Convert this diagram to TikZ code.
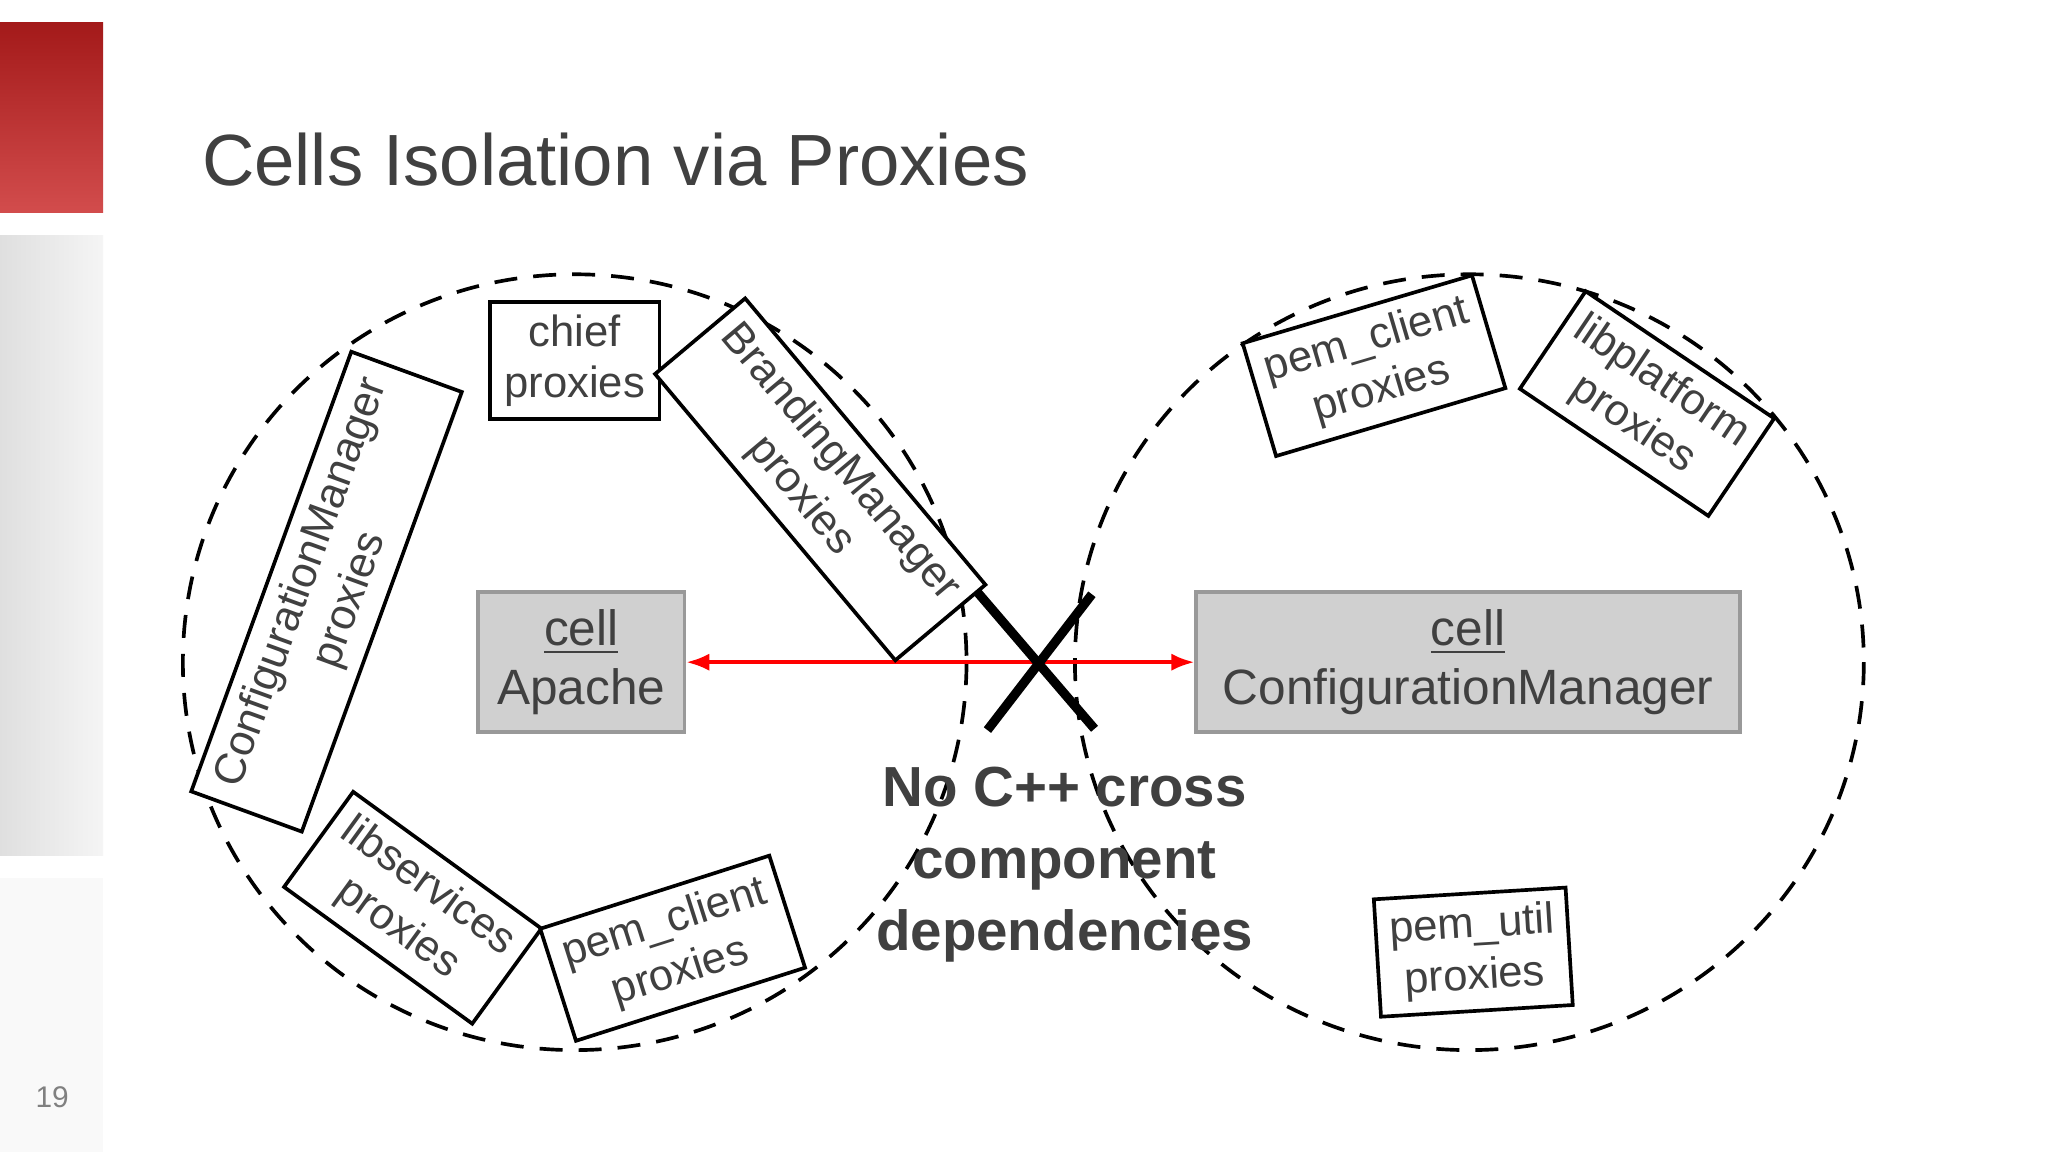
\documentclass[tikz,border=0pt]{standalone}
\usepackage{fontspec}
\setmainfont{Liberation Sans}
\usetikzlibrary{arrows.meta}
\definecolor{txt}{HTML}{404040}
\definecolor{cellgray}{HTML}{D0D0D0}
\begin{document}
\begin{tikzpicture}[x=0.01cm,y=-0.01cm,
  prox/.style={draw=black,line width=0.8pt,fill=white,align=center,text=txt,
    font=\fontsize{9.5}{11.2}\selectfont,inner sep=0pt,minimum height=0.9cm},
  cellbox/.style={draw=gray!80,line width=0.8pt,fill=cellgray,align=center,text=txt,
    font=\fontsize{10.8}{13}\selectfont,inner sep=0pt,minimum height=1.07cm},
  ring/.style={line width=0.8pt,dash pattern=on 5pt off 3.5pt}]
  % background
  \useasboundingbox (0,0) rectangle (1568,882);
  \fill[white] (0,0) rectangle (1568,882);
  \shade[top color=red!60!black!90,bottom color=red!75!black!70] (0,17) rectangle (79,163);
  \shade[left color=gray!25,right color=gray!8] (0,180) rectangle (79,655);
  \fill[gray!5] (0,672) rectangle (79,882);
  \node[text=gray,font=\fontsize{6.5}{8}\selectfont] (pg) at (40,840) {19};
  % title
  \node[anchor=west,inner sep=0pt,text=txt,font=\fontsize{15.8}{19}\selectfont] (title) at (154,122) {Cells Isolation via Proxies};
  % cells
  \draw[ring] (440,507) ellipse [x radius=300, y radius=297];
  \draw[ring] (1125,507) ellipse [x radius=302, y radius=297];
  % cell boxes
  \node[cellbox,minimum width=1.58cm] (apache) at (445,507) {\underline{cell}\\Apache};
  \node[cellbox,minimum width=4.16cm] (cfg) at (1124,507) {\underline{cell}\\ConfigurationManager};
  \draw[red,line width=0.8pt,{Latex[length=5pt]}-{Latex[length=5pt]}] (apache.east) -- (cfg.west);
  % proxies
  \node[prox,minimum width=1.30cm] (chief) at (440,276) {chief\\proxies};
  \node[prox,minimum width=3.58cm,rotate=70] (cmp) at (250,453) {ConfigurationManager\\proxies};
  \node[prox,minimum width=2.86cm,rotate=-50] (bmp) at (628,367) {BrandingManager\\proxies};
  \node[prox,minimum width=1.78cm,rotate=-36] (lsp) at (316,695) {libservices\\proxies};
  \node[prox,minimum width=1.84cm,rotate=17.7] (pcl) at (515,726) {pem\_client\\proxies};
  \node[prox,minimum width=1.83cm,rotate=16.5] (pcr) at (1052,280) {pem\_client\\proxies};
  \node[prox,minimum width=1.74cm,rotate=-34] (lpp) at (1261,309) {libplatform\\proxies};
  \node[prox,minimum width=1.47cm,rotate=3.5] (pup) at (1128,729) {pem\_util\\proxies};
  % big cross
  \coordinate (x1) at (748,453); \coordinate (x2) at (838,558);
  \coordinate (x3) at (836,455); \coordinate (x4) at (756,559);
  \draw[line width=2pt] (x1) -- (x2);
  \draw[line width=2pt] (x3) -- (x4);
  \node[text=txt,align=center,font=\bfseries\fontsize{12.3}{15.6}\selectfont] (note) at (815,662)
    {No C++ cross\\component\\dependencies};
\end{tikzpicture}
\end{document}
